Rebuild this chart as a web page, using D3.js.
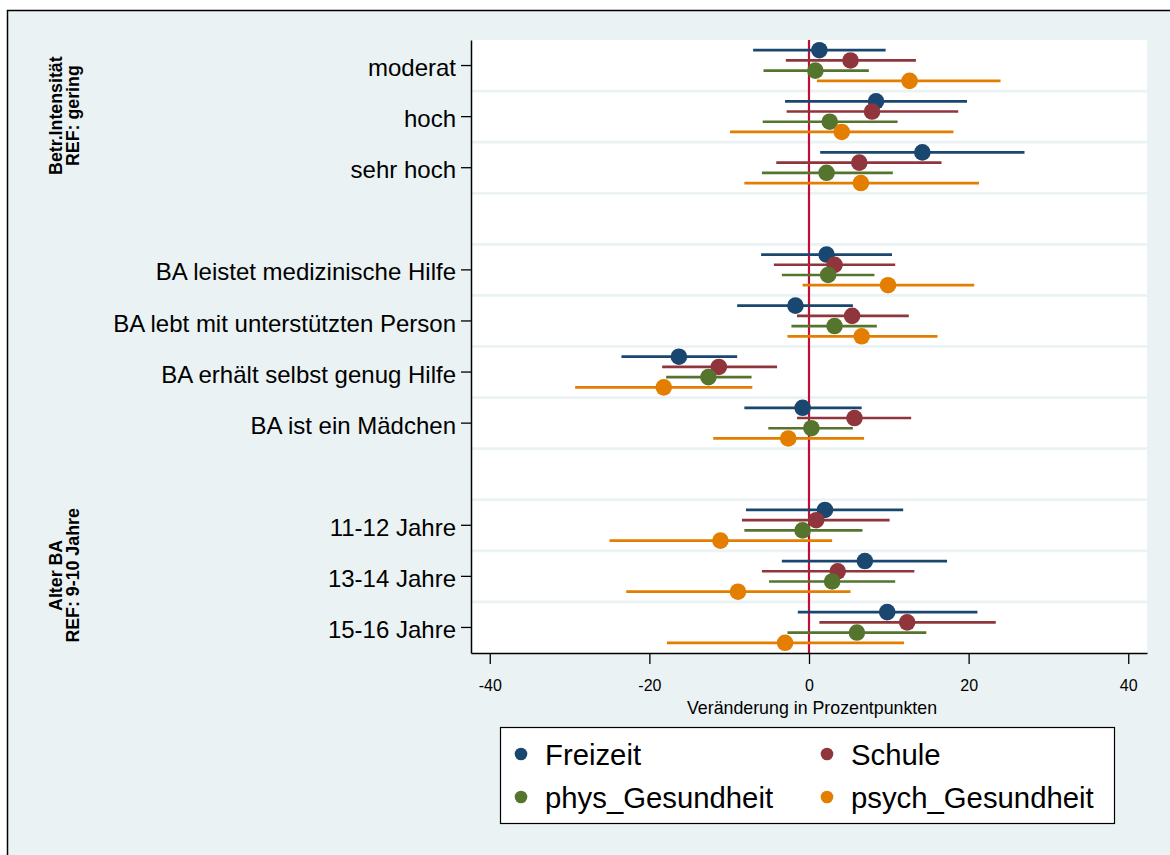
<!DOCTYPE html>
<html>
<head>
<meta charset="utf-8">
<script src="https://cdn.jsdelivr.net/npm/d3@7"></script>
<style>
  html, body { margin: 0; padding: 0; background: #ffffff; }
  svg { display: block; }
  text { font-family: "Liberation Sans", Arial, sans-serif; fill: #000; }
</style>
</head>
<body>
<svg id="chart" width="1170" height="855"></svg>
<script>
// ---------------- data ----------------
const categories = [
  "moderat", "hoch", "sehr hoch",
  "BA leistet medizinische Hilfe", "BA lebt mit unterstützten Person",
  "BA erhält selbst genug Hilfe", "BA ist ein Mädchen",
  "11-12 Jahre", "13-14 Jahre", "15-16 Jahre"
];
// category groups (index ranges into categories) and their headers
const groupMembers = [[0, 1, 2], [3, 4, 5, 6], [7, 8, 9]];
const groupHeaders = [["Betr.Intensität", "REF: gering"], null, ["Alter BA", "REF: 9-10 Jahre"]];

const seriesNames = ["Freizeit", "Schule", "phys_Gesundheit", "psych_Gesundheit"];
const seriesColors = ["#1A476F", "#90353B", "#55752F", "#E37E00"];

const freizeitEst = [1.3, 8.4, 14.2, 2.2, -1.7, -16.3, -0.8, 2.0, 7.0, 9.8];
const freizeitLo  = [-7.0, -3.0, 1.4, -6.0, -9.0, -23.5, -8.1, -7.9, -3.4, -1.4];
const freizeitHi  = [9.6, 19.8, 27.0, 10.4, 5.5, -9.0, 6.6, 11.8, 17.3, 21.1];

const schuleEst = [5.2, 7.9, 6.3, 3.2, 5.4, -11.3, 5.7, 0.9, 3.6, 12.3];
const schuleLo  = [-2.9, -2.8, -4.1, -4.4, -1.5, -18.4, -1.5, -8.4, -5.9, 1.3];
const schuleHi  = [13.4, 18.7, 16.6, 10.8, 12.5, -4.0, 12.8, 10.1, 13.2, 23.4];

const physEst = [0.8, 2.6, 2.2, 2.4, 3.2, -12.6, 0.3, -0.8, 2.9, 6.0];
const physLo  = [-5.7, -5.8, -5.9, -3.4, -2.2, -17.9, -5.1, -8.1, -5.0, -2.7];
const physHi  = [7.5, 11.1, 10.5, 8.2, 8.5, -7.2, 5.5, 6.7, 10.8, 14.7];

const psychEst = [12.6, 4.1, 6.5, 9.9, 6.6, -18.2, -2.6, -11.1, -8.9, -3.0];
const psychLo  = [1.0, -9.9, -8.1, -0.8, -2.7, -29.3, -12.0, -25.0, -22.9, -17.8];
const psychHi  = [24.0, 18.1, 21.3, 20.7, 16.1, -7.1, 6.9, 2.9, 5.2, 11.9];

const xTicks = [-40, -20, 0, 20, 40];
const xTitle = "Veränderung in Prozentpunkten";

// ---------------- build ----------------
const est = [freizeitEst, schuleEst, physEst, psychEst];
const lo = [freizeitLo, schuleLo, physLo, psychLo];
const hi = [freizeitHi, schuleHi, physHi, psychHi];

// slot keys: categories with a gap between groups
const slots = [];
groupMembers.forEach((g, gi) => {
  if (gi > 0) slots.push("__gap" + gi);
  g.forEach(i => slots.push(categories[i]));
});

const svg = d3.select("#chart");
const BG = "#EAF2F3";

// outer graph region (frame extends beyond right/bottom edge)
svg.append("rect").attr("x", 7.5).attr("y", 10.5).attr("width", 1250).attr("height", 950)
  .attr("fill", BG).attr("stroke", "#000").attr("stroke-width", 1.5);

const plot = { left: 471, right: 1147, top: 40, bottom: 653 };

svg.append("rect").attr("x", plot.left).attr("y", plot.top)
  .attr("width", plot.right - plot.left).attr("height", plot.bottom - plot.top)
  .attr("fill", "#fff");

const x = d3.scaleLinear().domain([-42.35, 42.35]).range([plot.left, plot.right]);
const y = d3.scaleBand().domain(slots).range([plot.top, plot.bottom]).paddingInner(0).paddingOuter(0);
const bw = y.bandwidth();

// grid lines between slots
const gridG = svg.append("g");
slots.slice(1).forEach(s => {
  gridG.append("line")
    .attr("x1", plot.left).attr("x2", plot.right)
    .attr("y1", y(s)).attr("y2", y(s))
    .attr("stroke", BG).attr("stroke-width", 2.7);
});

// zero reference line
svg.append("line")
  .attr("x1", x(0)).attr("x2", x(0)).attr("y1", plot.top).attr("y2", plot.bottom)
  .attr("stroke", "#C10D37").attr("stroke-width", 2.2);

// series
seriesNames.forEach((name, si) => {
  const off = (si - 1.5) * 0.2 * bw;
  const g = svg.append("g");
  categories.forEach((c, ci) => {
    const cy = y(c) + bw / 2 + off;
    g.append("line")
      .attr("x1", x(lo[si][ci])).attr("x2", x(hi[si][ci]))
      .attr("y1", cy).attr("y2", cy)
      .attr("stroke", seriesColors[si]).attr("stroke-width", 2.7);
    g.append("circle")
      .attr("cx", x(est[si][ci])).attr("cy", cy).attr("r", 8.3)
      .attr("fill", seriesColors[si]);
  });
});

// y axis
const yAxis = d3.axisLeft(y).tickValues(categories).tickSize(10).tickSizeOuter(0).tickPadding(5);
const yg = svg.append("g").attr("transform", `translate(${plot.left},0)`).call(yAxis);
yg.select(".domain").attr("stroke", "#000").attr("stroke-width", 1.5);
yg.selectAll(".tick line").attr("stroke", "#000").attr("stroke-width", 1.3);
yg.selectAll(".tick text").attr("font-size", 24).attr("dy", "0.44em")
  .style("font-family", '"Liberation Sans", Arial, sans-serif').attr("fill", "#000");

// x axis
const xAxis = d3.axisBottom(x).tickValues(xTicks).tickFormat(d => String(d))
  .tickSize(11).tickSizeOuter(0).tickPadding(16);
const xg = svg.append("g").attr("transform", `translate(0,${plot.bottom})`).call(xAxis);
xg.select(".domain").attr("stroke", "#000").attr("stroke-width", 1.5);
xg.selectAll(".tick line").attr("stroke", "#000").attr("stroke-width", 1.3);
xg.selectAll(".tick text").attr("font-size", 16)
  .style("font-family", '"Liberation Sans", Arial, sans-serif').attr("fill", "#000");

svg.append("text").attr("x", (plot.left + plot.right) / 2 + 3).attr("y", 714)
  .attr("text-anchor", "middle").attr("font-size", 17.8).text(xTitle);

// group headers (rotated)
groupMembers.forEach((g, gi) => {
  const hdr = groupHeaders[gi];
  if (!hdr) return;
  const yc = (y(categories[g[0]]) + y(categories[g[g.length - 1]]) + bw) / 2;
  hdr.forEach((line, li) => {
    const bx = 61.5 + li * 17;
    svg.append("text")
      .attr("transform", `translate(${bx},${yc - 1}) rotate(-90)`)
      .attr("text-anchor", "middle").attr("font-size", 17.8).attr("font-weight", "bold")
      .text(line);
  });
});

// legend
const leg = svg.append("g");
leg.append("rect").attr("x", 500.5).attr("y", 727.5).attr("width", 614).attr("height", 96)
  .attr("fill", "#fff").attr("stroke", "#000").attr("stroke-width", 1.2);
const legCols = [521, 827], legRows = [754, 797];
seriesNames.forEach((name, si) => {
  const cx = legCols[si % 2], cy = legRows[Math.floor(si / 2)];
  leg.append("circle").attr("cx", cx).attr("cy", cy).attr("r", 6.3).attr("fill", seriesColors[si]);
  leg.append("text").attr("x", cx + 24).attr("y", cy + 11).attr("font-size", 29.3).text(name);
});
</script>
</body>
</html>
